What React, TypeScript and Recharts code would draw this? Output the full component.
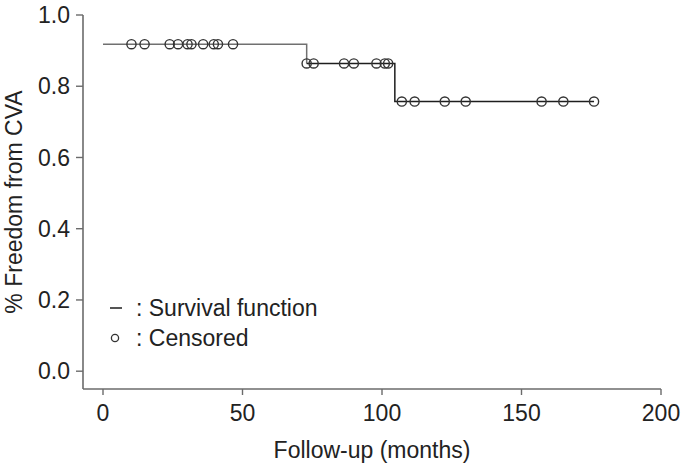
import { ComposedChart, Line, Scatter, XAxis, YAxis } from "recharts";

// Kaplan-Meier estimate: step changes (months) and survival after each step
const stepTimes = [0, 73, 104.6, 176];
const stepValues = [0.918, 0.864, 0.757, 0.757];

// censored follow-up times (months)
const censoredTimes = [
  10.2, 14.9, 23.9, 26.9, 30.3, 31.7, 35.9, 39.7, 41.2, 46.6,
  73, 75.5, 86.4, 89.9, 98, 101, 102.2,
  107.1, 111.7, 122.5, 130, 157.2, 165, 176,
];

const xTicks = [0, 50, 100, 150, 200];
const yTicks = [0, 0.2, 0.4, 0.6, 0.8, 1.0];

const FONT = "'Liberation Sans', Arial, sans-serif";
const AXIS = "#6b6b6b";
const TEXT = "#222";

function survivalAt(t: number): number {
  let v = stepValues[0];
  stepTimes.forEach((st, i) => {
    if (st <= t) v = stepValues[i];
  });
  return v;
}

const curve = stepTimes.map((t, i) => ({ t, s: stepValues[i] }));
const firstStep = curve.slice(0, 2);
const laterSteps = curve.slice(1);
const censored = censoredTimes.map((t) => ({ t, s: survivalAt(t) }));

function CensorMark(props: { cx?: number; cy?: number }) {
  const { cx, cy } = props;
  if (cx == null || cy == null) return null;
  return <circle cx={cx} cy={cy} r={4.6} fill="none" stroke="#333" strokeWidth={1.4} />;
}

export default function App() {
  const tickStyle = { fill: TEXT, fontSize: 23, fontFamily: FONT };
  return (
    <div style={{ position: "absolute", left: 0, top: 0, width: 687, height: 466, background: "#fff" }}>
      <ComposedChart width={687} height={466} margin={{ top: 15, right: 26, left: 0, bottom: 0 }}>
        <XAxis
          type="number"
          dataKey="t"
          domain={[-7.17, 200]}
          ticks={xTicks}
          height={77}
          tickSize={6}
          tickMargin={10}
          axisLine={{ stroke: AXIS, strokeWidth: 1.6 }}
          tickLine={{ stroke: AXIS, strokeWidth: 1.4 }}
          tick={tickStyle}
        />
        <YAxis
          type="number"
          dataKey="s"
          domain={[-0.05, 1]}
          ticks={yTicks}
          width={83}
          tickSize={7}
          tickMargin={6}
          tickFormatter={(v: number) => v.toFixed(1)}
          axisLine={{ stroke: AXIS, strokeWidth: 1.6 }}
          tickLine={{ stroke: AXIS, strokeWidth: 1.4 }}
          tick={tickStyle}
        />
        <Line
          data={firstStep}
          dataKey="s"
          type="stepAfter"
          stroke="#707070"
          strokeWidth={1.5}
          dot={false}
          activeDot={false}
          isAnimationActive={false}
        />
        <Line
          data={laterSteps}
          dataKey="s"
          type="stepAfter"
          stroke="#1e1e1e"
          strokeWidth={1.5}
          dot={false}
          activeDot={false}
          isAnimationActive={false}
        />
        <Scatter data={censored} dataKey="s" shape={<CensorMark />} isAnimationActive={false} />
      </ComposedChart>

      {/* titles and legend */}
      <svg width={687} height={466} style={{ position: "absolute", left: 0, top: 0, pointerEvents: "none" }}>
        <text x={372} y={458} textAnchor="middle" fontSize={23} fontFamily={FONT} fill={TEXT}>
          Follow-up (months)
        </text>
        <text
          x={22}
          y={202}
          textAnchor="middle"
          fontSize={23}
          fontFamily={FONT}
          fill={TEXT}
          transform="rotate(-90 22 202)"
        >
          % Freedom from CVA
        </text>
        <line x1={110} y1={308} x2={122} y2={308} stroke="#555" strokeWidth={2} />
        <text x={136} y={316} fontSize={23} fontFamily={FONT} fill={TEXT}>
          : Survival function
        </text>
        <circle cx={115} cy={338} r={3.6} fill="none" stroke="#333" strokeWidth={1.3} />
        <text x={136} y={346} fontSize={23} fontFamily={FONT} fill={TEXT}>
          : Censored
        </text>
      </svg>
    </div>
  );
}
